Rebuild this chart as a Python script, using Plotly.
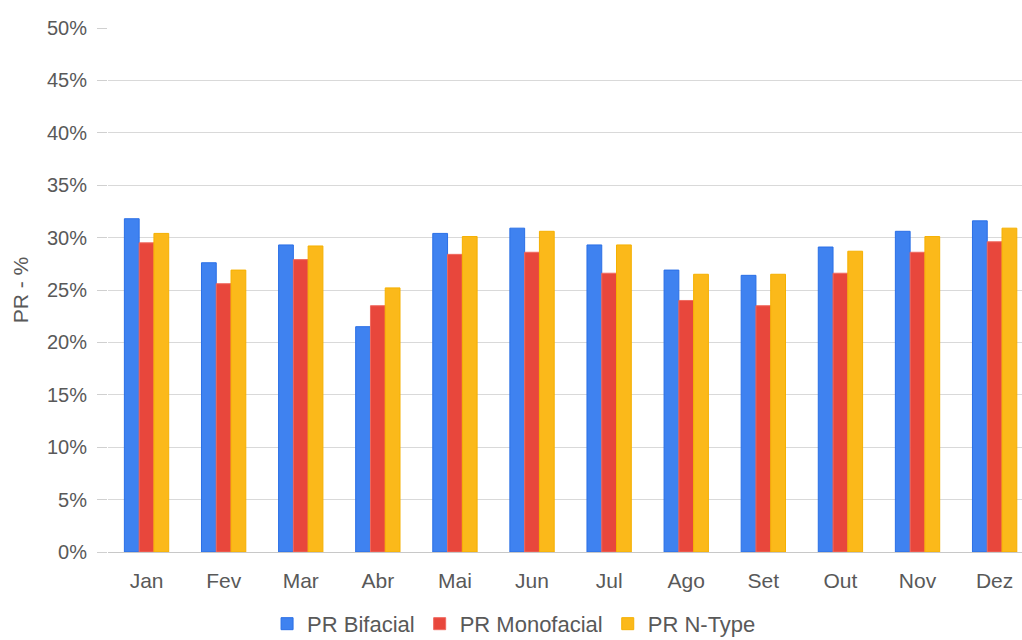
import plotly.graph_objects as go

meses = ["Jan", "Fev", "Mar", "Abr", "Mai", "Jun", "Jul", "Ago", "Set", "Out", "Nov", "Dez"]
pr_bifacial = [31.8, 27.6, 29.3, 21.5, 30.4, 30.9, 29.3, 26.9, 26.4, 29.1, 30.6, 31.6]
pr_monofacial = [29.5, 25.6, 27.9, 23.5, 28.4, 28.6, 26.6, 24.0, 23.5, 26.6, 28.6, 29.6]
pr_ntype = [30.4, 26.9, 29.2, 25.2, 30.1, 30.6, 29.3, 26.5, 26.5, 28.7, 30.1, 30.9]
y_ticks = [0, 5, 10, 15, 20, 25, 30, 35, 40, 45, 50]
y_labels = [f"{v}%" for v in y_ticks]

series = [
    ("PR Bifacial", pr_bifacial, "#3f82f0", "#2a6fe6"),
    ("PR Monofacial", pr_monofacial, "#e8473c", "#f06a60"),
    ("PR N-Type", pr_ntype, "#fbb91a", "#f5b000"),
]

fig = go.Figure()
for name, vals, fill, edge in series:
    fig.add_trace(go.Bar(
        name=name, x=meses, y=vals,
        marker=dict(color=fill, line=dict(color=edge, width=1)),
    ))

font = "Liberation Sans, Arial, sans-serif"
fig.update_layout(
    width=1022, height=640,
    margin=dict(l=108, r=0, t=28, b=88),
    paper_bgcolor="white", plot_bgcolor="white",
    barmode="group", bargap=0.425, bargroupgap=0,
    font=dict(family=font, size=20, color="#595959"),
    showlegend=True,
    legend=dict(
        orientation="h", xref="container", yref="container",
        x=0.503, xanchor="center", y=0.058, yanchor="top",
        font=dict(size=22, color="#595959"), itemwidth=30,
        traceorder="normal",
    ),
    xaxis=dict(
        range=[-0.5, 11.355], showgrid=False,
        showline=True, linecolor="#c8c8c8", linewidth=1,
        ticks="outside", ticklen=10, tickcolor="rgba(0,0,0,0)",
        tickfont=dict(size=21, color="#595959"),
    ),
    yaxis=dict(
        range=[0, 50], tickmode="array", tickvals=y_ticks, ticktext=y_labels,
        showgrid=True, gridcolor="#d9d9d9", gridwidth=1,
        zeroline=False, showline=False,
        ticks="outside", ticklen=10, tickcolor="#d0d0d0",
        ticklabelstandoff=6,
        tickfont=dict(size=20, color="#595959"),
        title=dict(text="PR - %", font=dict(size=21, color="#595959"), standoff=12),
    ),
)

fig.write_html("out.html")
